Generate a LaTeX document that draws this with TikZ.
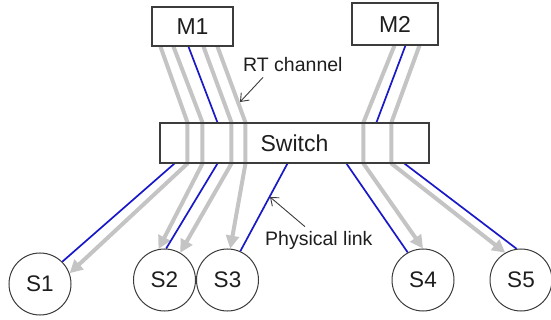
\documentclass[tikz,border=0pt]{standalone}
\usepackage{fontspec}
\setmainfont{Liberation Sans}
\usetikzlibrary{arrows.meta,backgrounds}
\definecolor{linkblue}{RGB}{25,25,200}
\definecolor{rtgray}{RGB}{196,196,196}
\definecolor{edge}{RGB}{60,60,60}
\definecolor{ink}{RGB}{30,30,30}
\tikzset{
  box/.style={draw=edge, line width=1.1pt, fill=white, text=ink, font=\fontsize{23}{25}\selectfont},
  swbox/.style={draw=edge, line width=1.1pt, text=ink, font=\fontsize{23}{25}\selectfont},
  station/.style={circle, draw=edge, line width=1pt, fill=white, minimum size=62pt, inner sep=0pt, text=ink, font=\fontsize{22.5}{24}\selectfont},
  lbl/.style={inner sep=0pt, text=ink, font=\fontsize{19.5}{21}\selectfont},
  rt/.style={draw=rtgray, line width=4pt, line join=round, -{Triangle[length=13pt,width=13pt]}},
  phys/.style={draw=linkblue, line width=1.7pt},
  callout/.style={draw=edge, line width=0.9pt, -{Straight Barb[length=7pt,width=11pt]}},
}
\begin{document}
\begin{tikzpicture}[x=1pt,y=-1pt]
\useasboundingbox (0,0) rectangle (551,320);

% masters, switch and stations
\node[box, minimum width=81pt, minimum height=39pt] (M1) at (192.5,26.5) {M1};
\node[box, minimum width=86pt, minimum height=42pt] (M2) at (395,24) {M2};
\node[swbox, minimum width=269pt, minimum height=40pt] (Sw) at (294.5,143) {Switch};
\node[station] (S1) at (40,284) {S1};
\node[station] (S2) at (164.5,280) {S2};
\node[station] (S3) at (227.5,280) {S3};
\node[station] (S4) at (423,280) {S4};
\node[station] (S5) at (521,280) {S5};

% annotations
\node[lbl, anchor=base west] (rtl) at (243,72) {RT channel};
\node[lbl, anchor=base west] (phl) at (265,246) {Physical link};
\coordinate (rtp) at (240,102);
\coordinate (php) at (270,197);

\begin{pgfonlayer}{background}
% real-time channels through the switch
\draw[rt] ([shift={(9,0)}]M1.south west) -- ([shift={(28,0)}]Sw.north west) -- ([shift={(28,0)}]Sw.south west) -- (S1.20);
\draw[rt] ([shift={(22,0)}]M1.south west) -- ([shift={(43,0)}]Sw.north west) -- ([shift={(43,0)}]Sw.south west) -- (S2.101);
\draw[rt] ([shift={(52,0)}]M1.south west) -- ([shift={(72,0)}]Sw.north west) -- ([shift={(72,0)}]Sw.south west) -- (S2.60);
\draw[rt] ([shift={(66,0)}]M1.south west) -- ([shift={(86,0)}]Sw.north west) -- ([shift={(86,0)}]Sw.south west) -- (S3.85);
\draw[rt] ([shift={(43,0)}]M2.south west) -- ([shift={(204,0)}]Sw.north west) -- ([shift={(204,0)}]Sw.south west) -- (S4.90);
\draw[rt] ([shift={(68,0)}]M2.south west) -- ([shift={(232,0)}]Sw.north west) -- ([shift={(232,0)}]Sw.south west) -- (S5.120);

% physical links
\draw[phys] ([shift={(37,0)}]M1.south west) -- ([shift={(58,0)}]Sw.north west);
\draw[phys] ([shift={(54,0)}]M2.south west) -- ([shift={(217,0)}]Sw.north west);
\draw[phys] ([shift={(15,0)}]Sw.south west) -- (S1.45);
\draw[phys] ([shift={(58,0)}]Sw.south west) -- (S2.87);
\draw[phys] ([shift={(128,0)}]Sw.south west) -- (S3.66);
\draw[phys] ([shift={(187,0)}]Sw.south west) -- (S4.119);
\draw[phys] ([shift={(245,0)}]Sw.south west) -- (S5.98);
\end{pgfonlayer}

\draw[callout] ([shift={(20,5)}]rtl.south west) -- (rtp);
\draw[callout] ([shift={(40,-5)}]phl.north west) -- (php);
\end{tikzpicture}
\end{document}
